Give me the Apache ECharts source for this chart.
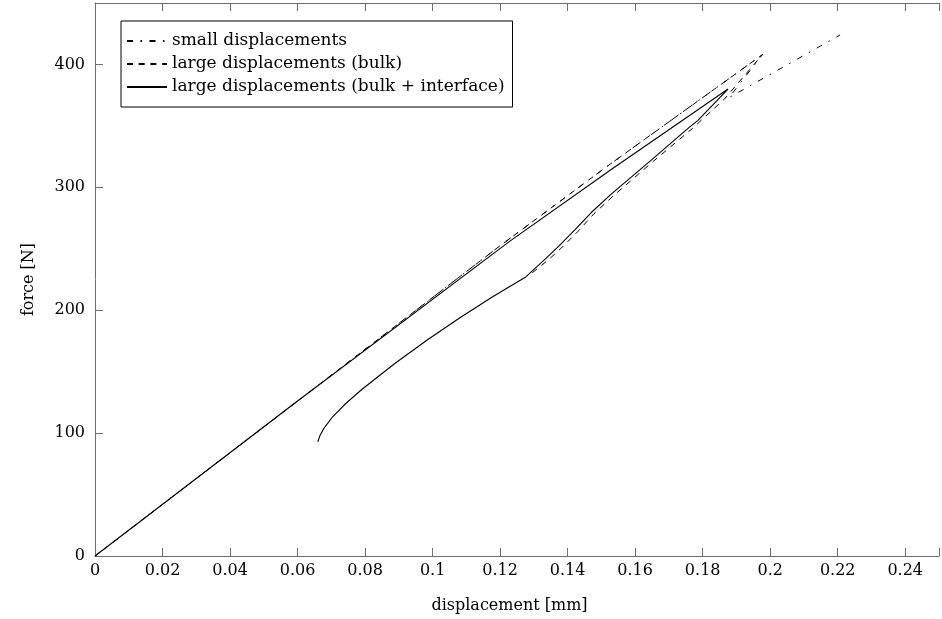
<!DOCTYPE html>
<html>
<head>
<meta charset="utf-8">
<script src="https://cdn.jsdelivr.net/npm/echarts@6/dist/echarts.min.js"></script>
<style>
  html, body { margin: 0; padding: 0; background: #fff; }
  #chart { width: 942px; height: 619px; }
</style>
</head>
<body>
<div id="chart"></div>
<script>
// Force–displacement response for three kinematic formulations

const xTicks = [0, 0.02, 0.04, 0.06, 0.08, 0.1, 0.12, 0.14, 0.16, 0.18, 0.2, 0.22, 0.24];
const yTicks = [0, 100, 200, 300, 400];

// small displacements: loading, drop, reloading branch
const smallDisp  = [0, 0.06, 0.1188, 0.1519, 0.1977, 0.1878, 0.2207];
const smallForce = [0, 126, 250, 317.5, 408, 373, 424];

// large displacements, bulk only: loading then snap-back
const bulkDisp  = [0, 0.06, 0.1188, 0.1519, 0.1977, 0.1865, 0.1770, 0.1653, 0.1537, 0.1478, 0.1430, 0.1381, 0.1343, 0.1284];
const bulkForce = [0, 126, 250, 317.5, 408, 372, 348, 321, 293.5, 278.5, 264, 250.5, 241, 228];

// large displacements, bulk + interface: loading then snap-back down to the end point
const fullDisp  = [0, 0.0597, 0.1228, 0.1529, 0.1875, 0.1786, 0.1761, 0.1645, 0.1529, 0.1470, 0.1422, 0.1373, 0.1335, 0.1276,
                   0.1179, 0.1082, 0.0985, 0.0888, 0.0791, 0.0742, 0.0704, 0.0679, 0.0666, 0.0660];
const fullForce = [0, 125.5, 256, 314.5, 380, 354.5, 349, 321.5, 294.5, 279.5, 265.5, 252, 242, 227.1,
                   211.1, 194.1, 176, 156.6, 135.7, 123.9, 113.3, 104.3, 97.8, 93];

const seriesNames = ['small displacements', 'large displacements (bulk)', 'large displacements (bulk + interface)'];

function pairs(xs, ys) { return xs.map((x, i) => [x, ys[i]]); }

const font = 'DejaVu Serif';
const axisGray = '#6e6e6e';

const chart = echarts.init(document.getElementById('chart'), null, { renderer: 'canvas' });

const baseX = {
  type: 'value', min: 0, max: 0.25, interval: 0.02,
  axisLine: { show: true, onZero: false, lineStyle: { color: axisGray, width: 1 } },
  axisTick: { show: true, inside: true, length: 8, lineStyle: { color: axisGray } },
  splitLine: { show: false }
};

chart.setOption({
  animation: false,
  backgroundColor: '#fff',
  grid: { left: 95, top: 3, width: 859, height: 553, containLabel: false },
  legend: {
    show: true,
    orient: 'vertical',
    left: 121, top: 21,
    data: seriesNames,
    itemWidth: 40, itemHeight: 14, itemGap: 6,
    padding: [11.5, 8, 11.5, 5],
    borderColor: '#000', borderWidth: 1,
    backgroundColor: '#fff',
    itemStyle: { opacity: 0 },
    textStyle: { fontFamily: font, fontSize: 17, color: '#000' }
  },
  xAxis: [
    Object.assign({}, baseX, {
      position: 'bottom',
      name: 'displacement [mm]', nameLocation: 'middle', nameGap: 42,
      nameTextStyle: { fontFamily: font, fontSize: 16, color: '#000', padding: [0, 15, 0, 0] },
      axisLabel: {
        fontFamily: font, fontSize: 16, color: '#000', margin: 7,
        formatter: v => (xTicks.some(t => Math.abs(t - v) < 1e-9) ? String(+v.toFixed(2)) : '')
      }
    }),
    Object.assign({}, baseX, { position: 'top', axisLabel: { show: false } })
  ],
  yAxis: {
    type: 'value', min: 0, max: 450, interval: 100,
    name: 'force [N]', nameLocation: 'middle', nameGap: 58,
    nameTextStyle: { fontFamily: font, fontSize: 16, color: '#000' },
    axisLine: { show: true, onZero: false, lineStyle: { color: axisGray, width: 1 } },
    axisTick: { show: true, inside: true, length: 8, lineStyle: { color: axisGray } },
    splitLine: { show: false },
    axisLabel: {
      fontFamily: font, fontSize: 16, color: '#000', margin: 10,
      formatter: v => (yTicks.indexOf(v) >= 0 ? String(v) : '')
    }
  },
  series: [
    {
      name: seriesNames[0], type: 'line', xAxisIndex: 0, symbol: 'none',
      data: pairs(smallDisp, smallForce),
      lineStyle: { color: '#000', width: 1, type: [6, 7.5, 1.5, 7.5] },
      itemStyle: { color: '#000' }
    },
    {
      name: seriesNames[1], type: 'line', xAxisIndex: 0, symbol: 'none',
      data: pairs(bulkDisp, bulkForce),
      lineStyle: { color: '#000', width: 1, type: [6, 5.7] },
      itemStyle: { color: '#000' }
    },
    {
      name: seriesNames[2], type: 'line', xAxisIndex: 0, symbol: 'none',
      data: pairs(fullDisp, fullForce),
      lineStyle: { color: '#000', width: 1.1, type: 'solid' },
      itemStyle: { color: '#000' }
    }
  ]
});
</script>
</body>
</html>
